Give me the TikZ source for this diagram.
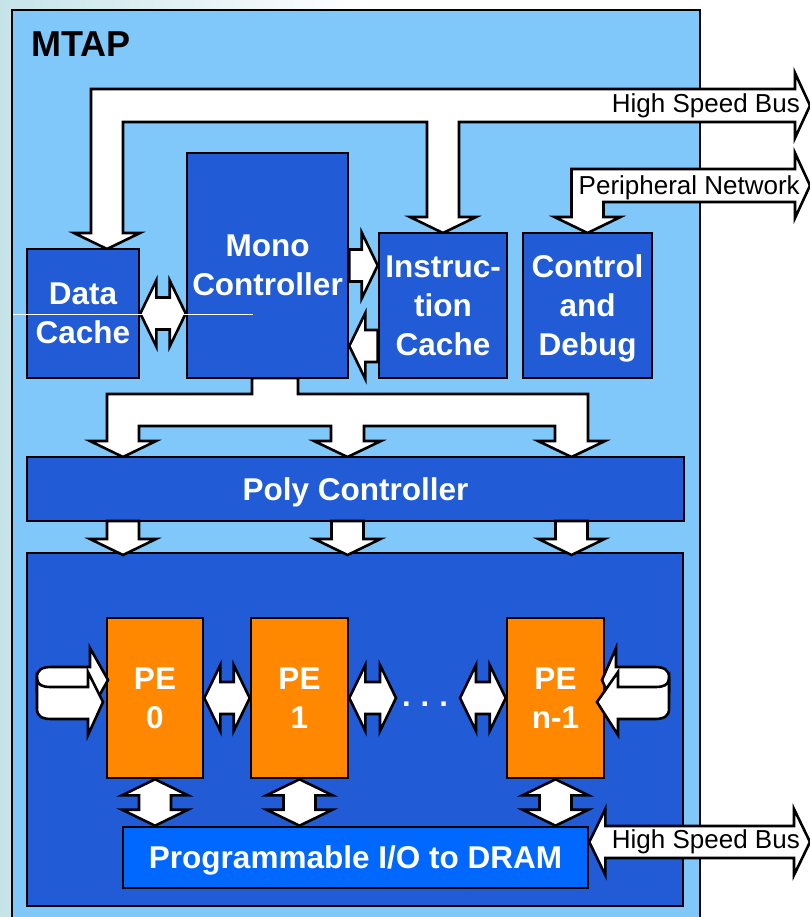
\documentclass[tikz,border=0pt]{standalone}
\usepackage{fontspec}
\setmainfont{Liberation Sans}
\usetikzlibrary{calc}
\definecolor{bgteal}{RGB}{198,228,232}
\definecolor{mtapblue}{RGB}{128,200,250}
\definecolor{dblue}{RGB}{33,92,214}
\definecolor{ioblue}{RGB}{0,104,255}
\definecolor{peorange}{RGB}{255,136,0}
\tikzset{
  bus/.style={draw=black, fill=white, line width=2.6pt, line join=miter},
  blk/.style={draw=black, line width=2.6pt, fill=dblue, text=white,
    font=\bfseries\fontsize{31.5}{39}\selectfont, align=center,
    text depth=0pt, inner sep=0pt},
  peblk/.style={blk, fill=peorange},
  iblk/.style={blk, fill=ioblue},
  lbl/.style={font=\fontsize{26}{30}\selectfont, inner sep=0pt, text=black},
}
% horizontal double block arrow: left tip #1, right tip #2
\newcommand\hdbl[2]{\draw[bus] let \p1=(#1), \p2=(#2) in
  (\x1,\y1) -- (\x1+16pt,\y1+33pt) -- (\x1+16pt,\y1+16pt) -- (\x2-16pt,\y1+16pt)
  -- (\x2-16pt,\y1+33pt) -- (\x2,\y1) -- (\x2-16pt,\y1-33pt) -- (\x2-16pt,\y1-16pt)
  -- (\x1+16pt,\y1-16pt) -- (\x1+16pt,\y1-33pt) -- cycle;}
% vertical double block arrow: top tip #1, bottom tip #2
\newcommand\vdbl[2]{\draw[bus] let \p1=(#1), \p2=(#2) in
  (\x1,\y1) -- (\x1+33pt,\y1-16pt) -- (\x1+16pt,\y1-16pt) -- (\x1+16pt,\y2+16pt)
  -- (\x1+33pt,\y2+16pt) -- (\x1,\y2) -- (\x1-33pt,\y2+16pt) -- (\x1-16pt,\y2+16pt)
  -- (\x1-16pt,\y1-16pt) -- (\x1-33pt,\y1-16pt) -- cycle;}
% right-pointing block arrow: tail #1, tip #2
\newcommand\rarr[2]{\draw[bus] let \p1=(#1), \p2=(#2) in
  (\x1,\y2+16pt) -- (\x2-16pt,\y2+16pt) -- (\x2-16pt,\y2+33pt) -- (\x2,\y2)
  -- (\x2-16pt,\y2-33pt) -- (\x2-16pt,\y2-16pt) -- (\x1,\y2-16pt) -- cycle;}
% left-pointing block arrow: tail #1, tip #2
\newcommand\larr[2]{\draw[bus] let \p1=(#1), \p2=(#2) in
  (\x1,\y2+16pt) -- (\x2+16pt,\y2+16pt) -- (\x2+16pt,\y2+33pt) -- (\x2,\y2)
  -- (\x2+16pt,\y2-33pt) -- (\x2+16pt,\y2-16pt) -- (\x1,\y2-16pt) -- cycle;}
% down block arrow: tail #1, tip #2
\newcommand\darr[2]{\draw[bus] let \p1=(#1), \p2=(#2) in
  (\x2-16pt,\y1) -- (\x2-16pt,\y2+16pt) -- (\x2-33pt,\y2+16pt) -- (\x2,\y2)
  -- (\x2+33pt,\y2+16pt) -- (\x2+16pt,\y2+16pt) -- (\x2+16pt,\y1) -- cycle;}
% looping (cylinder) arrow beside a PE
\newcommand\myPEloop[2]{%
  \draw[bus] (37,692) -- (37,677) .. controls (37,670) and (42,667) .. (51,667)
    -- (90,667) -- (90,648) -- (#1,680) -- (90,712) -- (90,692) -- cycle;
  \draw[bus] (37,679) .. controls (38,685) and (42,687) .. (51,687) -- (88,687)
    -- (88,672) -- (#2,702) -- (88,735) -- (88,719) -- (51,719)
    .. controls (42,719) and (37,716) .. (37,709) -- cycle;}

\begin{document}
\begin{tikzpicture}[x=1pt,y=-1pt]
\useasboundingbox (0,0) rectangle (810,917);
\clip (0,0) rectangle (810,917);
\fill[white] (0,0) rectangle (810,917);
\shade[left color=bgteal, right color=white] (0,0) rectangle (360,917);

% MTAP container
\node[draw=black, line width=2.2pt, fill=mtapblue, minimum width=688pt,
  minimum height=940pt, inner sep=0pt, anchor=north west] (mtapbox) at (11,9) {};
\node[font=\bfseries\fontsize{36}{40}\selectfont, anchor=base west, inner sep=0pt] (mtap) at (31,57) {MTAP};

% free ends of external buses
\coordinate (hsb1) at (810,105.5);
\coordinate (pnet) at (810,185.5);
\coordinate (hsb3) at (810,842);

% top high speed bus
\draw[bus] (107,249) -- (74,233) -- (91,233) -- (91,89) -- (795,89) -- (795,73)
  -- (hsb1) -- (795,138) -- (795,122) -- (459,122) -- (459,217) -- (476,217)
  -- (443,233) -- (410,217) -- (427,217) -- (427,122) -- (123,122) -- (123,233)
  -- (140,233) -- cycle;
% peripheral network
\draw[bus] (587.5,233) -- (554.5,217) -- (571.5,217) -- (571.5,169) -- (795,169)
  -- (795,153) -- (pnet) -- (795,218) -- (795,202) -- (603.5,202) -- (603.5,217)
  -- (620.5,217) -- cycle;
\node[lbl, anchor=base east] (hsb1t) at (800,113) {High Speed Bus};
\node[lbl, anchor=base east] (pnett) at (800,195) {Peripheral Network};

% Mono -> Poly distribution bus
\draw[bus] (123,457) -- (90,441) -- (107,441) -- (107,394) -- (252,394) -- (252,378)
  -- (298,378) -- (298,394) -- (588,394) -- (588,441) -- (605,441) -- (571.5,457)
  -- (538,441) -- (555,441) -- (555,426) -- (364,426) -- (364,441) -- (381,441)
  -- (347.5,457) -- (314,441) -- (331,441) -- (331,426) -- (139,426) -- (139,441)
  -- (156,441) -- cycle;

% blocks
\node[blk, minimum width=112pt, minimum height=129pt] (dc) at (83,313.5) {Data\\Cache};
\node[blk, minimum width=161pt, minimum height=225pt] (mc) at (267.5,265.5) {Mono\\Controller};
\node[blk, minimum width=128pt, minimum height=145pt] (ic) at (443,305.5) {Instruc-\\tion\\Cache};
\node[blk, minimum width=129pt, minimum height=145pt] (cd) at (587.5,305.5) {Control\\and\\Debug};
\node[blk, minimum width=657pt, minimum height=64pt] (poly) at (355.5,489) {Poly Controller};
\node[blk, minimum width=656pt, minimum height=353pt] (pea) at (355,729.5) {};
\node[peblk, minimum width=96pt, minimum height=160pt] (pe0) at (155,698) {PE\\0};
\node[peblk, minimum width=97pt, minimum height=160pt] (pe1) at (299.5,698) {PE\\1};
\node[peblk, minimum width=97pt, minimum height=160pt] (pen) at (555.5,698) {PE\\n-1};
\node[iblk, minimum width=465pt, minimum height=61pt] (io) at (355.5,857.5) {Programmable I/O to DRAM};

% cache / controller arrows
\hdbl{dc.east}{mc.west |- dc.east}
\rarr{mc.east}{ic.west |- mc.east}
\coordinate (icr) at ([yshift=-40.5pt]ic.west);
\larr{icr}{mc.east |- icr}

% poly controller -> PE array
\darr{123,521}{123,555}
\darr{347.5,521}{347.5,555}
\darr{571.5,521}{571.5,555}

% PE neighbour links
\node[font=\bfseries\fontsize{31}{39}\selectfont, text=white, inner sep=0pt, anchor=base]
  (dots) at (425,706) {.\hspace{10pt}.\hspace{10pt}.};
\coordinate (d1) at (396,698);
\coordinate (d2) at (460,698);
\hdbl{pe0.east}{pe1.west}
\hdbl{pe1.east}{d1}
\hdbl{d2}{pen.west}

% PE <-> I/O
\vdbl{pe0.south}{pe0.south |- io.north}
\vdbl{pe1.south}{pe1.south |- io.north}
\vdbl{pen.south}{pen.south |- io.north}

% loop arrows
\myPEloop{108}{103}
\begin{scope}[xshift=706pt, xscale=-1]
\myPEloop{104}{109}
\end{scope}

% external high speed bus from I/O
\coordinate (iob) at ([yshift=15.5pt]io.east);
\hdbl{iob}{hsb3}
\node[lbl, anchor=base east] (hsb3t) at (800,848) {High Speed Bus};

% faint guide line
\draw[white, line width=0.8pt] (13,314) -- (253,314);
\end{tikzpicture}
\end{document}
